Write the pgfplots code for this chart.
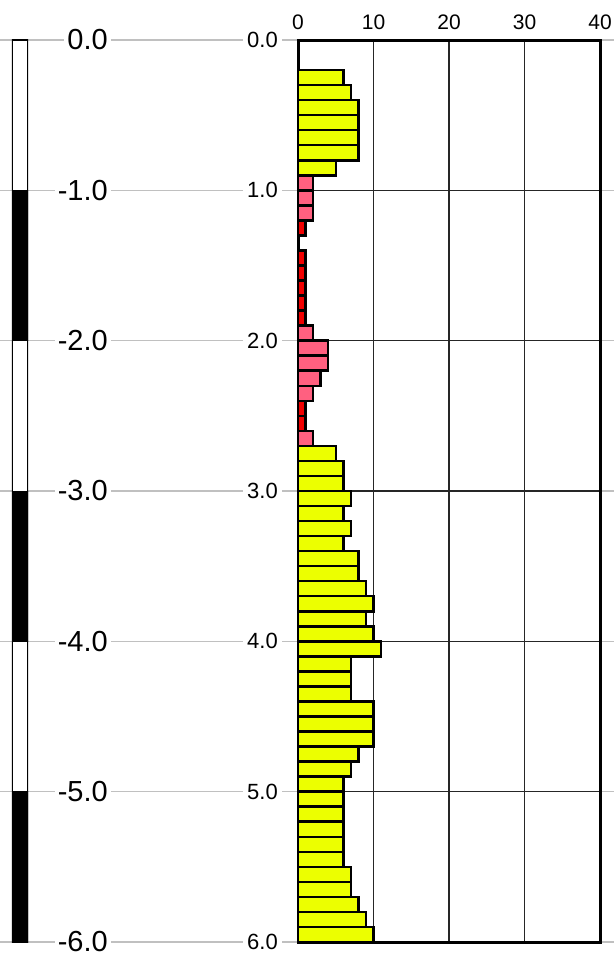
\documentclass[border=0pt]{standalone}
\usepackage{fontspec}
\setmainfont{Liberation Sans}
\usepackage{pgfplots}
\pgfplotsset{compat=1.18}
\definecolor{barY}{RGB}{236,255,0}
\definecolor{barP}{RGB}{255,96,128}
\definecolor{barR}{RGB}{240,0,0}
\definecolor{lineG}{RGB}{192,192,192}
\begin{document}
\begin{tikzpicture}
\useasboundingbox (0pt,0pt) rectangle (614pt,958pt);
% depth guide lines and labels (0 m at y=918pt, 6 m at y=16pt)
\foreach \d in {0,...,6}{
  \draw[lineG, line width=1.5pt] (0pt,{918pt-150.333pt*\d}) -- (298pt,{918pt-150.333pt*\d});
  \draw[lineG, line width=1.5pt] (600pt,{918pt-150.333pt*\d}) -- (614pt,{918pt-150.333pt*\d});
  \node[anchor=east, fill=white, inner sep=3pt, font=\fontsize{29}{30}\selectfont]
    at (111pt,{918pt-150.333pt*\d}) {\ifnum\d=0 0.0\else -\d.0\fi};
  \node[anchor=east, fill=white, inner sep=4pt, font=\fontsize{22}{24}\selectfont]
    at (282pt,{918pt-150.333pt*\d}) {\d.0};
}
% scale bar
\begin{axis}[at={(12pt,16pt)}, anchor=south west, scale only axis,
  width=16pt, height=902pt, xmin=0, xmax=1, ymin=-6, ymax=0, hide axis]
\addplot[fill=white, draw=black, line width=1.2pt] coordinates {(0,0)(1,0)(1,-6)(0,-6)} -- cycle;
\addplot[fill=black, draw=black] coordinates {(0,-1)(1,-1)(1,-2)(0,-2)} -- cycle;
\addplot[fill=black, draw=black] coordinates {(0,-3)(1,-3)(1,-4)(0,-4)} -- cycle;
\addplot[fill=black, draw=black] coordinates {(0,-5)(1,-5)(1,-6)(0,-6)} -- cycle;
\end{axis}
% profile
\begin{axis}[at={(298pt,16pt)}, anchor=south west, scale only axis,
  width=302pt, height=902pt,
  xmin=0, xmax=40, ymin=0, ymax=6, y dir=reverse,
  xtick={0,10,20,30,40}, ytick={0,...,6}, yticklabels={},
  xticklabel pos=upper,
  major tick length=0pt,
  /pgf/number format/assume math mode=true,
  xticklabel style={font=\fontsize{21}{24}\selectfont, yshift=5pt},
  grid=major, major grid style={black!85, line width=1.4pt},
  line width=3pt,
  axis line style={line width=3pt},
  xbar, bar width=0.1, bar shift=0pt]
\addplot[fill=barY, draw=black, line width=2.5pt] coordinates {
 (6,0.25) (7,0.35) (8,0.45) (8,0.55) (8,0.65) (8,0.75) (5,0.85)
 (5,2.75) (6,2.85) (6,2.95) (7,3.05) (6,3.15) (7,3.25) (6,3.35) (8,3.45) (8,3.55)
 (9,3.65) (10,3.75) (9,3.85) (10,3.95) (11,4.05) (7,4.15) (7,4.25) (7,4.35)
 (10,4.45) (10,4.55) (10,4.65) (8,4.75) (7,4.85) (6,4.95) (6,5.05) (6,5.15)
 (6,5.25) (6,5.35) (6,5.45) (7,5.55) (7,5.65) (8,5.75) (9,5.85) (10,5.95)
};
\addplot[fill=barP, draw=black, line width=2.5pt] coordinates {
 (2,0.95) (2,1.05) (2,1.15) (2,1.95) (4,2.05) (4,2.15) (3,2.25) (2,2.35) (2,2.65)
};
\addplot[fill=barR, draw=black, line width=2.5pt] coordinates {
 (1,1.25) (1,1.45) (1,1.55) (1,1.65) (1,1.75) (1,1.85) (1,2.45) (1,2.55)
};
\end{axis}
\end{tikzpicture}
\end{document}
